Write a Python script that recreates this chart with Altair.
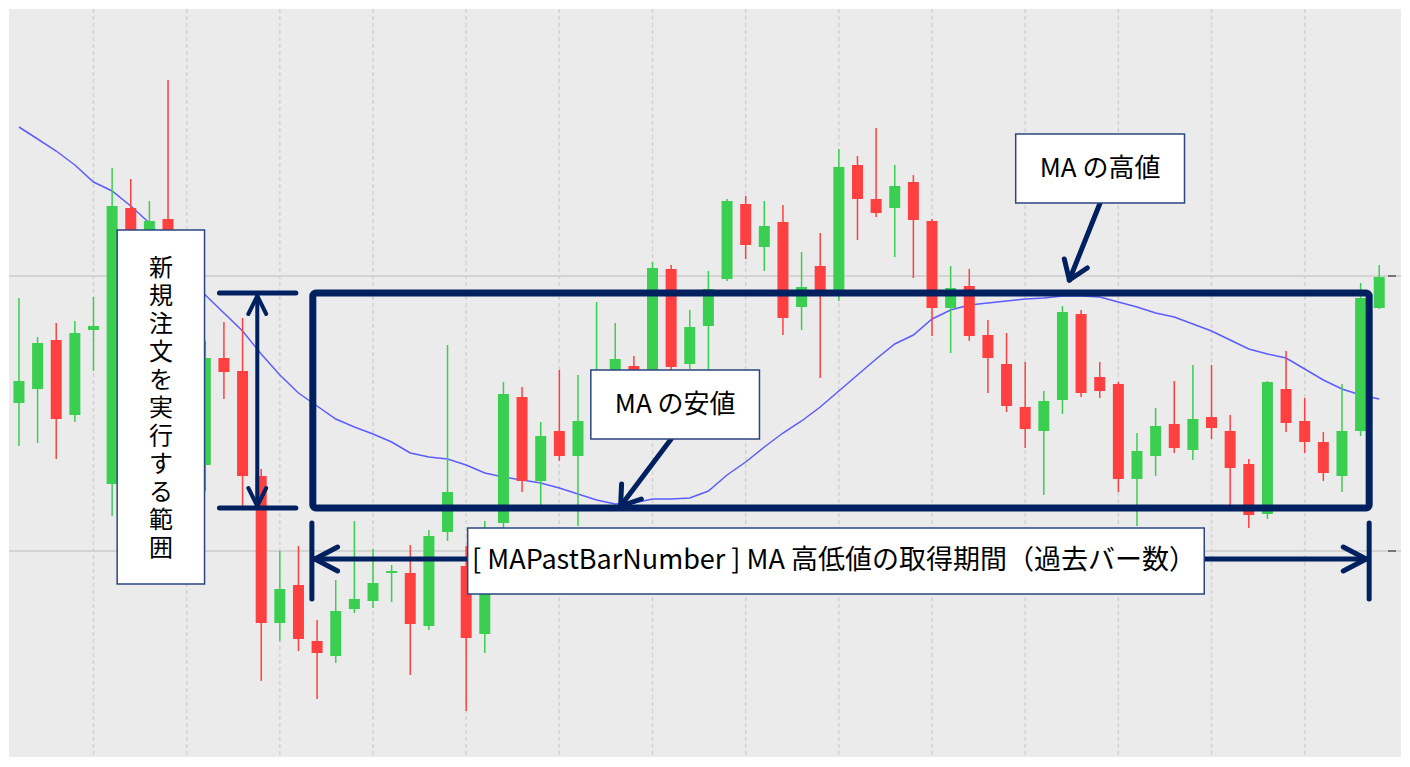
import altair as alt
import pandas as pd

# ---------------- candle data (bar index 0..73, price units) ----------------
opens = [398, 412, 461, 386, 471, 317, 593, 510, 582, 500,
         336, 443, 430, 325, 178, 216, 160, 145, 192, 200,
         228, 228, 175, 269, 235, 167, 278, 404, 320, 370,
         345, 380, 400, 435, 420, 532, 437, 475, 522, 597,
         554, 579, 494, 535, 510, 636, 602, 593, 619, 580,
         493, 515, 466, 437, 394, 370, 401, 487, 424, 417,
         322, 345, 377, 351, 384, 370, 337, 287, 412, 380,
         359, 325, 370, 493]
highs = [503, 464, 478, 480, 504, 633, 622, 600, 721, 520,
         460, 479, 483, 332, 250, 255, 181, 221, 280, 252,
         236, 256, 271, 456, 255, 280, 419, 414, 379, 431,
         426, 499, 478, 445, 539, 536, 491, 530, 602, 605,
         600, 596, 549, 568, 652, 645, 673, 636, 626, 582,
         535, 532, 481, 468, 439, 410, 495, 491, 439, 419,
         368, 393, 420, 436, 436, 386, 342, 420, 450, 403,
         369, 417, 518, 536]
lows = [355, 358, 342, 379, 430, 285, 470, 490, 465, 320,
        310, 402, 295, 120, 160, 150, 102, 138, 188, 193,
        199, 126, 171, 260, 90, 148, 270, 309, 296, 340,
        275, 375, 390, 390, 410, 430, 432, 430, 520, 542,
        530, 466, 471, 423, 500, 561, 584, 544, 523, 465,
        448, 460, 408, 389, 353, 306, 387, 404, 403, 309,
        275, 325, 348, 341, 362, 295, 273, 282, 369, 348,
        320, 309, 365, 492]
closes = [420, 458, 382, 468, 475, 595, 500, 580, 490, 340,
          443, 429, 325, 178, 212, 162, 148, 190, 202, 218,
          230, 177, 265, 309, 163, 268, 407, 320, 365, 345,
          380, 425, 442, 405, 533, 434, 474, 512, 600, 556,
          575, 483, 514, 510, 634, 602, 588, 615, 581, 493,
          513, 465, 443, 395, 372, 400, 489, 408, 410, 322,
          350, 375, 353, 382, 373, 333, 286, 419, 378, 359,
          328, 370, 503, 524]
ma_values = [674, 662, 650, 636, 619, 610, 595, 578, 555, 532,
             506, 488, 470, 447, 426, 408, 395, 382, 374, 367,
             359, 348, 344, 342, 336, 328, 324, 321, 318, 313,
             307, 301, 297, 298, 302, 302, 303, 310, 326, 339,
             354, 368, 380, 394, 410, 426, 442, 457, 466, 482,
             491, 496, 498, 500, 502, 503, 505, 505, 504, 499,
             494, 488, 484, 477, 470, 461, 452, 447, 443, 432,
             421, 412, 406, 402]

grid_x = [4, 9, 14, 19, 24, 29, 34, 39, 44, 49, 54, 59, 64, 69]
grid_y = [525, 250]

# ---------------- annotation geometry (bar index / price units) ----------------
range_box = {"x": 15.77, "x2": 72.46, "y": 293, "y2": 508}

seg_x = [12.79, 10.76, 10.76, 12.79, 12.79, 12.79, 12.79,
         15.88, 15.72, 72.46, 15.88, 15.88, 72.30, 72.30,
         35.00, 32.29, 32.29,
         58.02, 56.37, 56.37]
seg_y = [505, 508, 293, 505, 505, 295, 295,
         242, 278, 278, 242, 242, 242, 242,
         362, 295, 295,
         598, 521, 521]
seg_x2 = [12.79, 14.86, 14.86, 12.31, 13.27, 12.31, 13.27,
          72.30, 15.72, 72.46, 17.10, 17.10, 71.07, 71.07,
          32.29, 33.40, 32.34,
          56.37, 57.33, 56.10]
seg_y2 = [295, 508, 293, 487, 487, 313, 313,
          242, 202, 202, 254, 230, 254, 230,
          295, 302, 317,
          521, 533, 542]
seg_w = [4, 5, 5, 4, 4, 4, 4,
         5, 5, 5, 5, 5, 5, 5,
         5, 5, 5,
         5, 5, 5]

box_x = [5.27, 24.08, 30.69, 53.49]
box_x2 = [9.96, 63.61, 39.74, 62.55]
box_y = [217, 207, 362, 598]
box_y2 = [571, 273, 431, 667]

label_text = ["\n".join(list("新規注文を実行する範囲")),
              "[ MAPastBarNumber ] MA 高低値の取得期間（過去バー数）",
              "MA の安値",
              "MA の高値"]
label_x = [7.62, 43.74, 35.22, 58.02]
label_y = [532, 240, 396, 632]
label_size = [24, 27, 26, 26]

# ---------------- build tables ----------------
candles = pd.DataFrame({"bar": list(range(len(opens))), "open": opens, "high": highs,
                        "low": lows, "close": closes, "ma": ma_values})
candles["dir"] = ["up" if c >= o else "down" for o, c in zip(opens, closes)]
segs = pd.DataFrame({"x": seg_x, "y": seg_y, "x2": seg_x2, "y2": seg_y2, "w": seg_w})
boxes = pd.DataFrame({"x": box_x, "x2": box_x2, "y": box_y, "y2": box_y2})
labels = pd.DataFrame({"t": label_text, "x": label_x, "y": label_y, "s": label_size})

NAVY = "#002060"
xs = alt.Scale(domain=[-0.266, 73.9], nice=False, zero=False)
ys = alt.Scale(domain=[44, 792], nice=False, zero=False)
col = alt.Color("dir:N", scale=alt.Scale(domain=["up", "down"], range=["#3acf50", "#ff4040"]), legend=None)

vgrid = alt.Chart(pd.DataFrame({"g": grid_x})).mark_rule(
    color="#d2d2d2", strokeWidth=1.5, strokeDash=[4, 3]
).encode(x=alt.X("g:Q", scale=xs, axis=None))

hgrid = alt.Chart(pd.DataFrame({"g": grid_y})).mark_rule(
    color="#cdcdcd", strokeWidth=1.5
).encode(y=alt.Y("g:Q", scale=ys, axis=None))

hticks = alt.Chart(pd.DataFrame({"g": grid_y, "a": [73.47, 73.47], "b": [73.9, 73.9]})).mark_rule(
    color="#555555", strokeWidth=1.5
).encode(x=alt.X("a:Q", scale=xs, axis=None), x2="b:Q", y=alt.Y("g:Q", scale=ys, axis=None))

ma = alt.Chart(candles).mark_line(color="#5c5cff", strokeWidth=1.5).encode(
    x=alt.X("bar:Q", scale=xs, axis=None), y=alt.Y("ma:Q", scale=ys, axis=None))

wicks = alt.Chart(candles).mark_rule(strokeWidth=1.5).encode(
    x=alt.X("bar:Q", scale=xs, axis=None), y=alt.Y("low:Q", scale=ys, axis=None), y2="high:Q", color=col)

bodies = alt.Chart(candles).mark_bar(size=11).encode(
    x=alt.X("bar:Q", scale=xs, axis=None), y=alt.Y("open:Q", scale=ys, axis=None), y2="close:Q", color=col)

big_box = alt.Chart(pd.DataFrame([range_box])).mark_rect(
    fillOpacity=0, stroke=NAVY, strokeWidth=7, cornerRadius=3
).encode(x=alt.X("x:Q", scale=xs, axis=None), x2="x2:Q", y=alt.Y("y:Q", scale=ys, axis=None), y2="y2:Q")

lines = alt.Chart(segs).mark_rule(color=NAVY, strokeCap="round").encode(
    x=alt.X("x:Q", scale=xs, axis=None), y=alt.Y("y:Q", scale=ys, axis=None),
    x2="x2:Q", y2="y2:Q", strokeWidth=alt.StrokeWidth("w:Q", scale=None))

label_boxes = alt.Chart(boxes).mark_rect(fill="white", stroke="#2b4680", strokeWidth=1.5).encode(
    x=alt.X("x:Q", scale=xs, axis=None), x2="x2:Q", y=alt.Y("y:Q", scale=ys, axis=None), y2="y2:Q")

texts = alt.Chart(labels).mark_text(
    font="Noto Sans CJK JP", color="black", lineBreak="\n", lineHeight=28,
    align="center", baseline="middle"
).encode(x=alt.X("x:Q", scale=xs, axis=None), y=alt.Y("y:Q", scale=ys, axis=None),
         text="t:N", size=alt.Size("s:Q", scale=None))

chart = alt.layer(vgrid, hgrid, hticks, ma, wicks, bodies, big_box, lines, label_boxes, texts).properties(
    width=1392, height=748, padding=0, background="white"
).configure_view(fill="#ebebeb", strokeWidth=0)

chart.save("out.html", embed_options={"renderer": "svg", "actions": False})
